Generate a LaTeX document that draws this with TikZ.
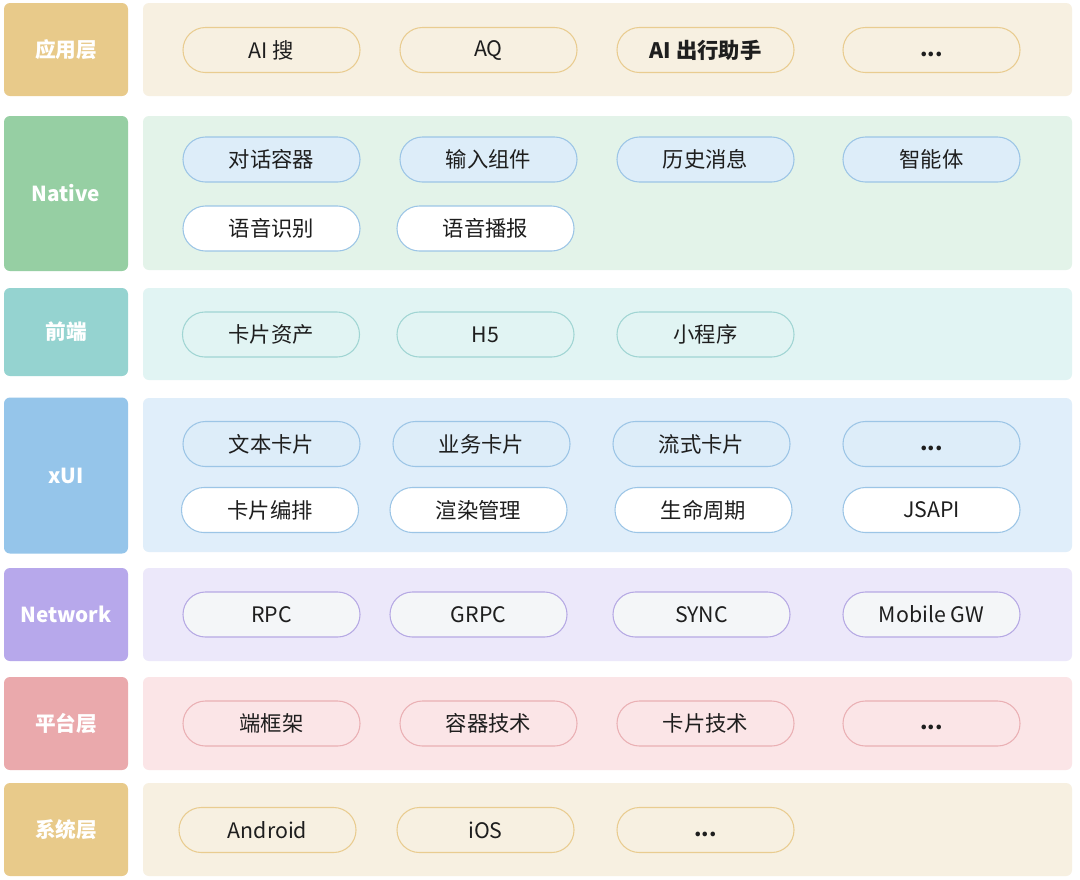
\documentclass[tikz,border=0pt]{standalone}
\usepackage{fontspec}
\setmainfont{Noto Sans CJK SC}
\definecolor{goldL}{HTML}{E8CA8A}
\definecolor{goldP}{HTML}{F7F0E1}
\definecolor{goldB}{HTML}{E9CC90}
\definecolor{greenL}{HTML}{96CFA3}
\definecolor{greenP}{HTML}{E3F3E9}
\definecolor{blueF}{HTML}{DDEDF9}
\definecolor{blueB}{HTML}{9CC5E6}
\definecolor{tealL}{HTML}{95D3D0}
\definecolor{tealP}{HTML}{E1F4F3}
\definecolor{tealB}{HTML}{A0D5D3}
\definecolor{xuiL}{HTML}{95C5EA}
\definecolor{xuiP}{HTML}{E0EEFA}
\definecolor{purL}{HTML}{B7A8EB}
\definecolor{purP}{HTML}{ECE8FA}
\definecolor{purF}{HTML}{F4F6F8}
\definecolor{purB}{HTML}{B6A9E4}
\definecolor{pinkL}{HTML}{EAA9AC}
\definecolor{pinkP}{HTML}{FBE5E7}
\definecolor{pinkB}{HTML}{EAB0B4}
\definecolor{txt}{HTML}{1E1E1E}
\newcommand{\mydots}{\vphantom{卡Ag}\textbf{...}}
\begin{document}
\begin{tikzpicture}[x=0.75pt,y=-0.75pt,
  lab/.style={rectangle,rounded corners=4.5pt,minimum width=93pt,inner sep=0pt,
    text=white,font=\fontsize{15.5pt}{18pt}\selectfont\bfseries},
  panel/.style={rectangle,rounded corners=4.5pt,minimum width=696.75pt,inner sep=0pt},
  pill/.style={rectangle,rounded corners=16.8pt,minimum width=132.75pt,minimum height=33.75pt,
    inner sep=0pt,line width=0.8pt,text=txt,font=\fontsize{16pt}{18pt}\selectfont},
  goldpill/.style={pill,draw=goldB,fill=goldP},
  bluepill/.style={pill,draw=blueB,fill=blueF},
  whitepill/.style={pill,draw=blueB,fill=white},
  tealpill/.style={pill,draw=tealB,fill=tealP},
  purpill/.style={pill,draw=purB,fill=purF},
  pinkpill/.style={pill,draw=pinkB,fill=pinkP}]
\useasboundingbox[fill=white] (0,0) rectangle (1080,879);
% row 1
\node[lab,fill=goldL,minimum height=69.75pt] (l1) at (66,49.5) {应用层};
\node[panel,fill=goldP,minimum height=69.75pt] (p1) at (607.5,49.5) {};
\node[goldpill] (a1) at (271.5,50) {AI 搜};
\node[goldpill] (a2) at (488.5,50) {AQ};
\node[goldpill,font=\fontsize{16pt}{18pt}\selectfont\bfseries] (a3) at (705.5,50) {AI 出行助手};
\node[goldpill] (a4) at (931.5,50) {\mydots};
% row 2
\node[lab,fill=greenL,minimum height=116.25pt] (l2) at (66,193.5) {Native};
\node[panel,fill=greenP,minimum height=115.5pt] (p2) at (607.5,193) {};
\node[bluepill] (n1) at (271.5,159.5) {对话容器};
\node[bluepill] (n2) at (488.5,159.5) {输入组件};
\node[bluepill] (n3) at (705.5,159.5) {历史消息};
\node[bluepill] (n4) at (931.5,159.5) {智能体};
\node[whitepill] (n5) at (271.5,228.5) {语音识别};
\node[whitepill] (n6) at (485.5,228.5) {语音播报};
% row 3
\node[lab,fill=tealL,minimum height=66pt] (l3) at (66,332) {前端};
\node[panel,fill=tealP,minimum height=69pt] (p3) at (607.5,334) {};
\node[tealpill] (f1) at (271,334.5) {卡片资产};
\node[tealpill] (f2) at (485.5,334.5) {H5};
\node[tealpill] (f3) at (705.5,334.5) {小程序};
% row 4
\node[lab,fill=xuiL,minimum height=117pt] (l4) at (66,475.5) {xUI};
\node[panel,fill=xuiP,minimum height=115.5pt] (p4) at (607.5,475) {};
\node[bluepill] (x1) at (271.5,444) {文本卡片};
\node[bluepill] (x2) at (481.5,444) {业务卡片};
\node[bluepill] (x3) at (701.5,444) {流式卡片};
\node[bluepill] (x4) at (931.5,444) {\mydots};
\node[whitepill] (x5) at (270,510) {卡片编排};
\node[whitepill] (x6) at (478.5,510) {渲染管理};
\node[whitepill] (x7) at (703.5,510) {生命周期};
\node[whitepill] (x8) at (931.5,510) {JSAPI};
% row 5
\node[lab,fill=purL,minimum height=69.75pt] (l5) at (66,614.5) {Network};
\node[panel,fill=purP,minimum height=69.75pt] (p5) at (607.5,614.5) {};
\node[purpill] (w1) at (271.5,614.5) {RPC};
\node[purpill] (w2) at (478.5,614.5) {GRPC};
\node[purpill] (w3) at (701.5,614.5) {SYNC};
\node[purpill] (w4) at (931.5,614.5) {Mobile GW};
% row 6
\node[lab,fill=pinkL,minimum height=69.75pt] (l6) at (66,723.5) {平台层};
\node[panel,fill=pinkP,minimum height=69.75pt] (p6) at (607.5,723.5) {};
\node[pinkpill] (t1) at (271.5,723.5) {端框架};
\node[pinkpill] (t2) at (488.5,723.5) {容器技术};
\node[pinkpill] (t3) at (705.5,723.5) {卡片技术};
\node[pinkpill] (t4) at (931.5,723.5) {\mydots};
% row 7
\node[lab,fill=goldL,minimum height=69.75pt] (l7) at (66,829.5) {系统层};
\node[panel,fill=goldP,minimum height=69.75pt] (p7) at (607.5,829.5) {};
\node[goldpill] (s1) at (267.5,830) {Android};
\node[goldpill] (s2) at (485.5,830) {iOS};
\node[goldpill] (s3) at (705.5,830) {\mydots};
\end{tikzpicture}
\end{document}
